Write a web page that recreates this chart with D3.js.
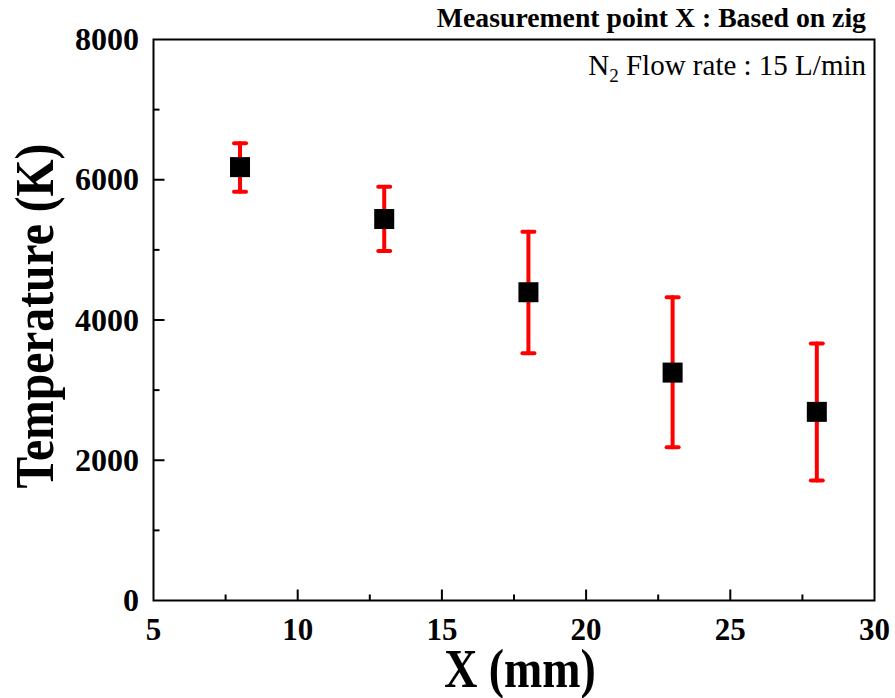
<!DOCTYPE html>
<html><head><meta charset="utf-8">
<script src="https://cdn.jsdelivr.net/npm/d3@7"></script>
<style>body{margin:0;background:#fff}svg{display:block}text{font-family:"Liberation Serif","Times New Roman",serif}</style>
</head><body>
<script>
const xValues = [8, 13, 18, 23, 28];
const tempValues = [6180, 5440, 4396, 3250, 2690];
const errUpper = [6520, 5900, 5260, 4325, 3665];
const errLower = [5830, 4985, 3527, 2187, 1711];
const xTicks = [5, 10, 15, 20, 25, 30];
const yTicks = [0, 2000, 4000, 6000, 8000];

const W = 895, H = 698;
const m = {left: 153.5, right: 874.5, top: 39.5, bottom: 600.5};
const svg = d3.select("body").append("svg").attr("width", W).attr("height", H);
const x = d3.scaleLinear().domain([5, 30]).range([m.left, m.right]);
const y = d3.scaleLinear().domain([0, 8000]).range([m.bottom, m.top]);

// frame
svg.append("rect").attr("x", m.left).attr("y", m.top).attr("width", m.right - m.left).attr("height", m.bottom - m.top)
  .attr("fill", "none").attr("stroke", "#000").attr("stroke-width", 2);

// x ticks (inward)
const xMinor = d3.range(7.5, 30, 5);
const gx = svg.append("g");
gx.selectAll("line.maj").data(xTicks.slice(1, -1)).join("line")
  .attr("x1", d => x(d)).attr("x2", d => x(d)).attr("y1", m.bottom).attr("y2", m.bottom - 11)
  .attr("stroke", "#000").attr("stroke-width", 2);
gx.selectAll("line.min").data(xMinor).join("line")
  .attr("x1", d => x(d)).attr("x2", d => x(d)).attr("y1", m.bottom).attr("y2", m.bottom - 6)
  .attr("stroke", "#000").attr("stroke-width", 2);
gx.selectAll("text").data(xTicks).join("text")
  .attr("x", d => x(d)).attr("y", 640).attr("text-anchor", "middle")
  .attr("font-size", 31).attr("font-weight", "bold").text(d => d);

// y ticks (inward)
const yMinor = d3.range(1000, 8000, 2000);
const gy = svg.append("g");
gy.selectAll("line.maj").data(yTicks.slice(1, -1)).join("line")
  .attr("x1", m.left).attr("x2", m.left + 11).attr("y1", d => y(d)).attr("y2", d => y(d))
  .attr("stroke", "#000").attr("stroke-width", 2);
gy.selectAll("line.min").data(yMinor).join("line")
  .attr("x1", m.left).attr("x2", m.left + 6).attr("y1", d => y(d)).attr("y2", d => y(d))
  .attr("stroke", "#000").attr("stroke-width", 2);
gy.selectAll("text").data(yTicks).join("text")
  .attr("x", 139).attr("y", d => y(d) + 10.5).attr("text-anchor", "end")
  .attr("font-size", 32).attr("font-weight", "bold").text(d => d);

// axis titles
svg.append("text").attr("transform", "translate(520,687) scale(0.85,1)").attr("text-anchor", "middle")
  .attr("font-size", 54).attr("font-weight", "bold").text("X (mm)");
svg.append("text").attr("transform", "translate(53,316) rotate(-90) scale(0.85,1)").attr("text-anchor", "middle")
  .attr("font-size", 56).attr("font-weight", "bold").text("Temperature (K)");

// annotations
svg.append("text").attr("x", 866).attr("y", 27).attr("text-anchor", "end")
  .attr("font-size", 28).attr("font-weight", "bold").attr("transform", "translate(866,0) scale(0.99,1) translate(-866,0)")
  .text("Measurement point X : Based on zig");
const t2 = svg.append("text").attr("x", 866).attr("y", 75).attr("text-anchor", "end").attr("font-size", 29);
t2.append("tspan").text("N");
t2.append("tspan").attr("font-size", 19).attr("dy", 7).text("2");
t2.append("tspan").attr("dy", -7).text(" Flow rate : 15 L/min");

// error bars
const data = xValues.map((d, i) => ({x: d, v: tempValues[i], hi: errUpper[i], lo: errLower[i]}));
const eb = svg.append("g").attr("stroke", "#ff0000").attr("stroke-width", 4).attr("stroke-linecap", "round");
eb.selectAll("line.v").data(data).join("line")
  .attr("x1", d => x(d.x)).attr("x2", d => x(d.x)).attr("y1", d => y(d.hi)).attr("y2", d => y(d.lo));
eb.selectAll("line.t").data(data).join("line")
  .attr("x1", d => x(d.x) - 6).attr("x2", d => x(d.x) + 6).attr("y1", d => y(d.hi)).attr("y2", d => y(d.hi));
eb.selectAll("line.b").data(data).join("line")
  .attr("x1", d => x(d.x) - 6).attr("x2", d => x(d.x) + 6).attr("y1", d => y(d.lo)).attr("y2", d => y(d.lo));

// markers
svg.append("g").selectAll("rect").data(data).join("rect")
  .attr("x", d => x(d.x) - 10).attr("y", d => y(d.v) - 10).attr("width", 20).attr("height", 20).attr("fill", "#000");
</script>
</body></html>
